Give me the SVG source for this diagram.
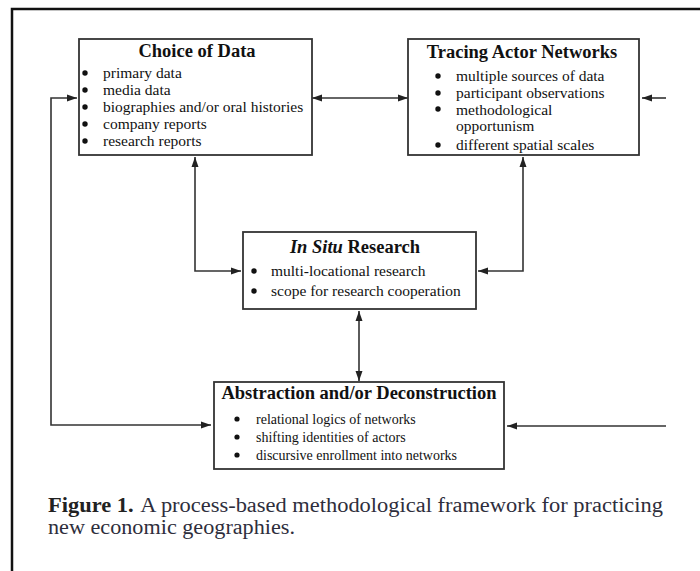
<svg xmlns="http://www.w3.org/2000/svg" width="700" height="571" viewBox="0 0 700 571">
<defs>
<marker id="arr" markerUnits="userSpaceOnUse" markerWidth="10" markerHeight="8" refX="10" refY="4" orient="auto-start-reverse">
<path d="M0,0.5 L10,4 L0,7.5 z" fill="#222"/>
</marker>
<style>
.box{fill:#fff;stroke:#333;stroke-width:1.8}
.con{fill:none;stroke:#333;stroke-width:1.6}
.t{font-family:"Liberation Serif","Times New Roman",serif;fill:#111}
.title{font-size:18.5px;font-weight:bold;text-anchor:middle}
.item{font-size:15.5px}
.small{font-size:14px}
.dot{fill:#111}
.cap{font-family:"Liberation Serif","Times New Roman",serif;font-size:20px;fill:#2e2e3c}
</style>
</defs>
<rect width="700" height="571" fill="#fff"/>
<path d="M12,571 V9 H700" fill="none" stroke="#111" stroke-width="2.5"/>

<g id="connectors">
<path class="con" d="M312,98 H408" marker-start="url(#arr)" marker-end="url(#arr)"/>
<path class="con" d="M211,425 H51 V98 H77" marker-start="url(#arr)" marker-end="url(#arr)"/>
<path class="con" d="M666,98 H642" marker-end="url(#arr)"/>
<path class="con" d="M666,426 H507" marker-end="url(#arr)"/>
<path class="con" d="M195,157 V271 H241" marker-start="url(#arr)" marker-end="url(#arr)"/>
<path class="con" d="M523,157 V271 H478" marker-start="url(#arr)" marker-end="url(#arr)"/>
<path class="con" d="M359,311 V381" marker-start="url(#arr)" marker-end="url(#arr)"/>
</g>

<g id="choice">
<rect class="box" x="79" y="39" width="233" height="116"/>
<text class="t title" x="197" y="57">Choice of Data</text>
<circle class="dot" cx="85" cy="73" r="2.7"/>
<circle class="dot" cx="85" cy="90" r="2.7"/>
<circle class="dot" cx="85" cy="107" r="2.7"/>
<circle class="dot" cx="85" cy="124" r="2.7"/>
<circle class="dot" cx="85" cy="141" r="2.7"/>
<text class="t item" x="103" y="78">primary data</text>
<text class="t item" x="103" y="95">media data</text>
<text class="t item" x="103" y="112">biographies and/or oral histories</text>
<text class="t item" x="103" y="129">company reports</text>
<text class="t item" x="103" y="146">research reports</text>
</g>

<g id="tracing">
<rect class="box" x="408" y="39" width="231" height="116"/>
<text class="t title" x="522" y="58">Tracing Actor Networks</text>
<circle class="dot" cx="438" cy="76" r="2.7"/>
<circle class="dot" cx="438" cy="93" r="2.7"/>
<circle class="dot" cx="438" cy="109" r="2.7"/>
<circle class="dot" cx="438" cy="145" r="2.7"/>
<text class="t item" x="456" y="81">multiple sources of data</text>
<text class="t item" x="456" y="98">participant observations</text>
<text class="t item" x="456" y="115">methodological</text>
<text class="t item" x="456" y="131">opportunism</text>
<text class="t item" x="456" y="150">different spatial scales</text>
</g>

<g id="insitu">
<rect class="box" x="243" y="232" width="233" height="77"/>
<text class="t title" x="355" y="253"><tspan font-style="italic">In Situ</tspan> Research</text>
<circle class="dot" cx="254" cy="271" r="2.7"/>
<circle class="dot" cx="254" cy="291" r="2.7"/>
<text class="t item" x="271" y="276">multi-locational research</text>
<text class="t item" x="271" y="296">scope for research cooperation</text>
</g>

<g id="abstraction">
<rect class="box" x="214" y="382" width="290" height="87"/>
<text class="t title" x="359" y="399">Abstraction and/or Deconstruction</text>
<circle class="dot" cx="237" cy="419" r="2.6"/>
<circle class="dot" cx="237" cy="437" r="2.6"/>
<circle class="dot" cx="237" cy="455" r="2.6"/>
<text class="t small" x="256" y="424">relational logics of networks</text>
<text class="t small" x="256" y="442">shifting identities of actors</text>
<text class="t small" x="256" y="460">discursive enrollment into networks</text>
</g>

<g id="caption">
<text class="cap" x="48" y="512" textLength="615" lengthAdjust="spacingAndGlyphs"><tspan font-weight="bold" fill="#222">Figure 1.</tspan><tspan dx="6">A process-based methodological framework for practicing</tspan></text>
<text class="cap" x="48" y="534" textLength="247" lengthAdjust="spacingAndGlyphs">new economic geographies.</text>
</g>
</svg>
